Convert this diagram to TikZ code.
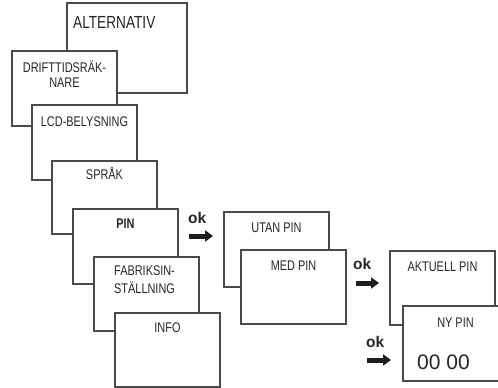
\documentclass[tikz,border=0pt]{standalone}
\usepackage{fontspec}
\setmainfont{Liberation Sans}[FakeStretch=0.78]
\newfontfamily\plainsans{Liberation Sans}
\usetikzlibrary{arrows.meta}
\definecolor{boxline}{HTML}{4A4A4A}
\definecolor{arrowcol}{HTML}{1E1E1E}
\tikzset{
  menubox/.style={draw=boxline, line width=1.1pt, fill=white, anchor=north west,
    minimum width=105pt, minimum height=74pt, inner sep=0pt, outer sep=0pt},
  lbl/.style={anchor=base, inner sep=0pt, font=\fontsize{14}{14}\selectfont, text=black!85},
  oklbl/.style={anchor=base west, inner sep=0pt, font=\plainsans\fontsize{15.5}{15.5}\selectfont\bfseries, text=black!85},
  okarrow/.style={draw=arrowcol, line width=5pt, -{Triangle[length=8pt,width=11pt]}},
}
\begin{document}
\begin{tikzpicture}[x=1pt,y=-1pt]
\useasboundingbox (0,0) rectangle (498,388);
% boxes (drawn back to front)
\node[menubox, minimum width=120pt, minimum height=90pt] (alt) at (67,3) {};
\node[lbl, font=\fontsize{17.5}{17.5}\selectfont, anchor=base west] (altl) at (73,28) {ALTERNATIV};

\node[menubox, minimum height=75pt] (drift) at (12,51) {};
\node[lbl] (driftl1) at (64.5,72) {DRIFTTIDSRÄK-};
\node[lbl] (driftl2) at (64.5,87) {NARE};

\node[menubox, minimum height=75pt] (lcd) at (32,105) {};
\node[lbl] (lcdl) at (84.5,126) {LCD-BELYSNING};

\node[menubox, minimum height=73pt] (sprak) at (52,161) {};
\node[lbl] (sprakl) at (104.5,179) {SPRÅK};

\node[menubox, minimum height=75pt] (pin) at (73,209) {};
\node[lbl, font=\fontsize{14}{14}\selectfont\bfseries] (pinl) at (125.5,228) {PIN};

\node[menubox, minimum height=74pt] (fab) at (94,257) {};
\node[lbl, anchor=base west] (fabl1) at (114,275) {FABRIKSIN-};
\node[lbl, anchor=base west] (fabl2) at (114,293) {STÄLLNING};

\node[menubox, minimum height=74pt] (info) at (115,313) {};
\node[lbl] (infol) at (167.5,332) {INFO};

\node[menubox, minimum height=75pt] (utan) at (224,212) {};
\node[lbl] (utanl) at (276.5,232) {UTAN PIN};

\node[menubox, minimum height=74pt] (med) at (241,250) {};
\node[lbl] (medl) at (293.5,270) {MED PIN};

\node[menubox, minimum height=74pt] (akt) at (390,251) {};
\node[lbl] (aktl) at (442.5,271) {AKTUELL PIN};

\node[menubox, minimum height=75pt] (ny) at (403,306) {};
\node[lbl] (nyl) at (455.5,327) {NY PIN};
\node[lbl, font=\plainsans\fontsize{21}{21}\selectfont] (nyval) at (443.5,369) {00 00};

% ok arrows
\node[oklbl] (ok1) at (188,223) {ok};
\coordinate (a1s) at (189,236); \coordinate (a1e) at (213,236);
\draw[okarrow] (a1s) -- (a1e);

\node[oklbl] (ok2) at (353,269) {ok};
\coordinate (a2s) at (356,283); \coordinate (a2e) at (379,283);
\draw[okarrow] (a2s) -- (a2e);

\node[oklbl] (ok3) at (366,347) {ok};
\coordinate (a3s) at (367,360); \coordinate (a3e) at (391,360);
\draw[okarrow] (a3s) -- (a3e);
\end{tikzpicture}
\end{document}
